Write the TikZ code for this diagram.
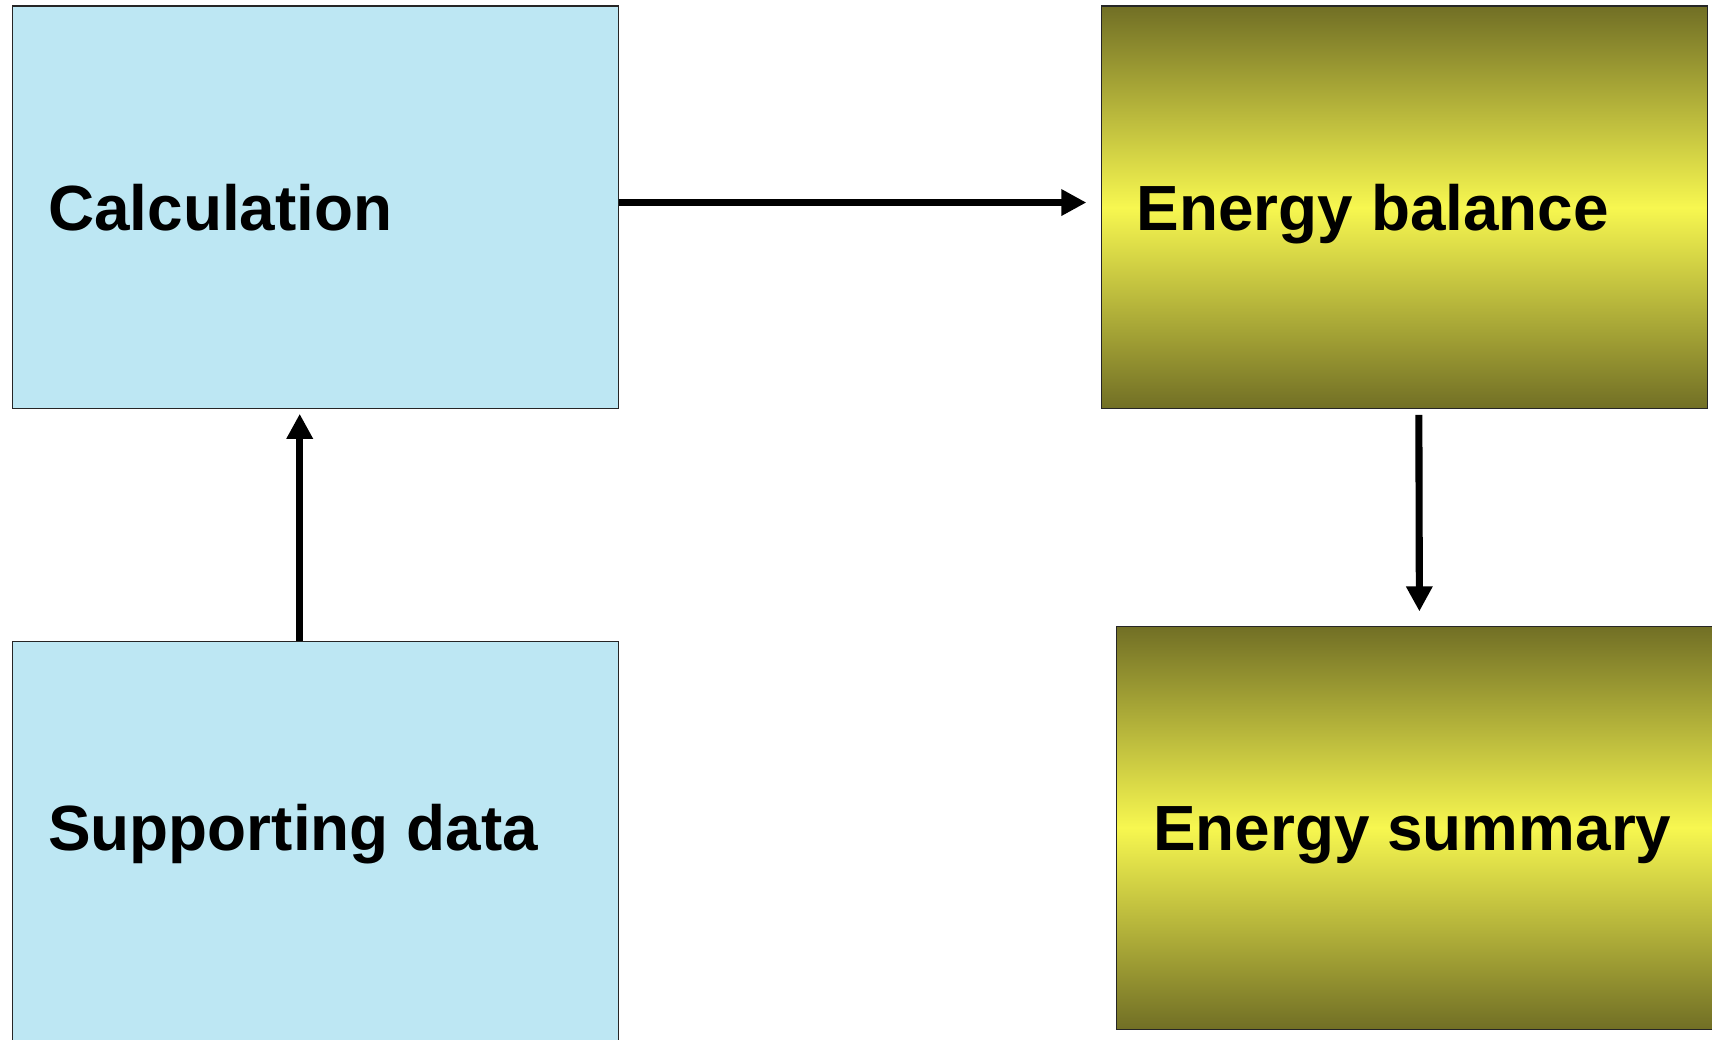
\documentclass[tikz,border=0pt]{standalone}
\usepackage{fontspec}
\setmainfont{Liberation Sans}
\usetikzlibrary{arrows.meta}
\definecolor{boxblue}{RGB}{189,231,243}
\definecolor{darkolive}{RGB}{113,111,37}
\definecolor{brightyel}{RGB}{247,247,80}
\tikzset{
  bluebox/.style={draw=black!85, line width=1pt, fill=boxblue, minimum width=555pt, minimum height=369pt, inner sep=0pt, anchor=north west},
  olivebox/.style={draw=black!85, line width=1pt, top color=darkolive, bottom color=darkolive, middle color=brightyel, minimum width=555pt, minimum height=369pt, inner sep=0pt, anchor=north west},
  lbl/.style={font=\fontsize{58.5}{62}\selectfont\bfseries, anchor=base west, inner sep=0pt},
  conn/.style={line width=6.5pt, -{Triangle[length=23pt,width=23pt]}}
}
\begin{document}
\begin{tikzpicture}[x=1pt,y=1pt]
\useasboundingbox (0,0) rectangle (1568,-952);
\node[bluebox] (calc) at (11,-5) {};
\node[olivebox] (eb) at (1008,-5) {};
\node[bluebox] (sup) at (11,-587) {};
\node[olivebox] (es) at (1022,-573) {};
\node[lbl] (tcalc) at (44,-211) {Calculation};
\node[lbl] (teb) at (1041,-211) {Energy balance};
\node[lbl] (tsup) at (44,-779) {Supporting data};
\node[lbl] (tes) at (1056,-779) {Energy summary};
\draw[conn] ([yshift=4.5pt]calc.east) -- ([yshift=4.5pt,xshift=-13pt]eb.west);
\draw[conn] ([xshift=-14.5pt]sup.north) -- ([xshift=-14.5pt,yshift=-4pt]calc.south);
\draw[conn] ([xshift=13.5pt,yshift=-5pt]eb.south) -- ([yshift=13pt]es.north);
\end{tikzpicture}
\end{document}
